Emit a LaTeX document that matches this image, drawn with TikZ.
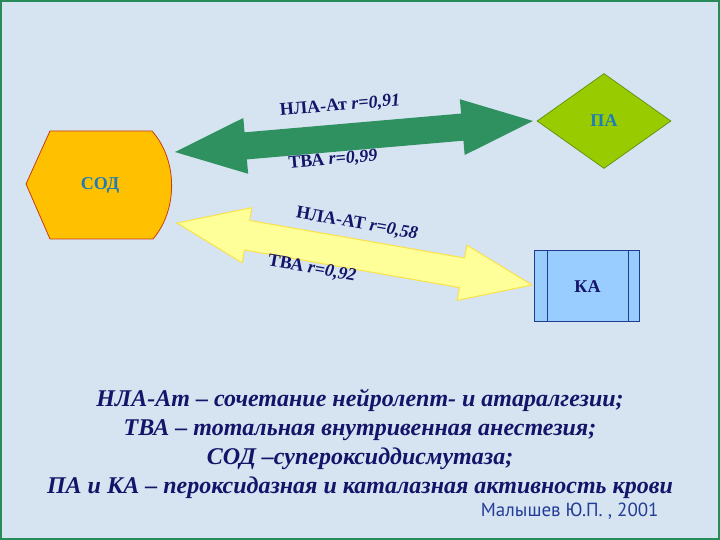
\documentclass[tikz,border=0pt]{standalone}
\usepackage{fontspec}
\setmainfont{Liberation Serif}
\newfontfamily\authfont{PT Sans}
\usetikzlibrary{shapes.geometric,calc,positioning}
\definecolor{bgblue}{RGB}{214,228,242}
\definecolor{framegreen}{RGB}{40,140,90}
\definecolor{sodfill}{RGB}{255,192,0}
\definecolor{sodline}{RGB}{200,60,20}
\definecolor{pafill}{RGB}{153,204,0}
\definecolor{paline}{RGB}{100,150,20}
\definecolor{kafill}{RGB}{153,204,255}
\definecolor{kaline}{RGB}{30,60,140}
\definecolor{garrow}{RGB}{46,145,95}
\definecolor{yarrow}{RGB}{255,255,153}
\definecolor{yline}{RGB}{250,225,70}
\definecolor{navy}{RGB}{20,20,105}
\definecolor{tealblue}{RGB}{30,125,185}
\definecolor{authblue}{RGB}{35,60,150}
\tikzset{x=0.5pt,y=-0.5pt,
  lbl/.style={text=navy,font=\fontsize{9}{10}\selectfont\bfseries,inner sep=0pt},
  boxtext/.style={font=\fontsize{9}{10}\selectfont\bfseries},
  pabox/.style={diamond,draw=paline,fill=pafill,line width=0.4pt,minimum width=67pt,minimum height=47.5pt,inner sep=0pt,boxtext,text=tealblue},
  kabox/.style={rectangle,draw=kaline,fill=kafill,line width=0.5pt,minimum width=52.5pt,minimum height=35.5pt,inner sep=0pt,boxtext,text=navy},
  greenarrow/.style={fill=garrow},
  yellowarrow/.style={fill=yarrow,draw=yline,line width=0.5pt,line join=miter}}

\begin{document}
\begin{tikzpicture}
\useasboundingbox (0,0) rectangle (720,540);
\fill[bgblue] (0,0) rectangle (720,540);
\draw[framegreen,line width=1.2pt] (1.2,1.2) rectangle (718.8,538.8);

% SOD shape
\filldraw[fill=sodfill,draw=sodline,line width=0.4pt]
  (26,184) -- (50,131) -- (152,131) .. controls (178,160) and (178,210) .. (153,239)
  -- (50,239) -- cycle;
\node[boxtext,text=tealblue] (sod) at (100,185) {СОД};

\node[pabox] (pa) at (604,121) {ПА};
\node[kabox] (ka) at (587.5,286.5) {КА};
\draw[kaline,line width=0.5pt] ([xshift=6.5pt]ka.north west) -- ([xshift=6.5pt]ka.south west);
\draw[kaline,line width=0.5pt] ([xshift=-6pt]ka.north east) -- ([xshift=-6pt]ka.south east);

% green double arrow
\coordinate (g1) at (175,152);
\coordinate (g2) at (533,121);
\fill[greenarrow] (g1)
  -- ($(g1)!35.5pt!(g2)!14pt!90:(g2)$)
  -- ($(g1)!35.5pt!(g2)!6.8pt!90:(g2)$)
  -- ($(g2)!35.5pt!(g1)!6.8pt!-90:(g1)$)
  -- ($(g2)!35.5pt!(g1)!14pt!-90:(g1)$)
  -- (g2)
  -- ($(g2)!35.5pt!(g1)!14pt!90:(g1)$)
  -- ($(g2)!35.5pt!(g1)!6.8pt!90:(g1)$)
  -- ($(g1)!35.5pt!(g2)!6.8pt!-90:(g2)$)
  -- ($(g1)!35.5pt!(g2)!14pt!-90:(g2)$)
  -- cycle;

% yellow double arrow
\coordinate (y1) at (177,223);
\coordinate (y2) at (532,285);
\filldraw[yellowarrow] (y1)
  -- ($(y1)!35.5pt!(y2)!14pt!90:(y2)$)
  -- ($(y1)!35.5pt!(y2)!7.5pt!90:(y2)$)
  -- ($(y2)!35.5pt!(y1)!7.5pt!-90:(y1)$)
  -- ($(y2)!35.5pt!(y1)!14pt!-90:(y1)$)
  -- (y2)
  -- ($(y2)!35.5pt!(y1)!14pt!90:(y1)$)
  -- ($(y2)!35.5pt!(y1)!7.5pt!90:(y1)$)
  -- ($(y1)!35.5pt!(y2)!7.5pt!-90:(y2)$)
  -- ($(y1)!35.5pt!(y2)!14pt!-90:(y2)$)
  -- cycle;

% correlation labels
\node[lbl,rotate=5] (lga) at (340,106) {НЛА-Ат \textit{r=0,91}};
\node[lbl,rotate=5] (lgb) at (333,160) {ТВА \textit{r=0,99}};
\node[lbl,rotate=-10] (lya) at (357,224) {НЛА-АТ \textit{r=0,58}};
\node[lbl,rotate=-10] (lyb) at (312,269) {ТВА \textit{r=0,92}};

% legend
\node[text=navy,align=center,font=\fontsize{12}{14.5}\selectfont\bfseries\itshape] (notes) at (360,444)
  {НЛА-Ат – сочетание нейролепт- и атаралгезии;\\
   ТВА – тотальная внутривенная анестезия;\\
   СОД –супероксиддисмутаза;\\
   ПА и КА – пероксидазная и каталазная активность крови};
\node[text=authblue,font=\authfont\fontsize{9.5}{11}\selectfont,anchor=east,inner sep=0pt] (auth) at (659,511) {Малышев Ю.П. , 2001};
\end{tikzpicture}
\end{document}
